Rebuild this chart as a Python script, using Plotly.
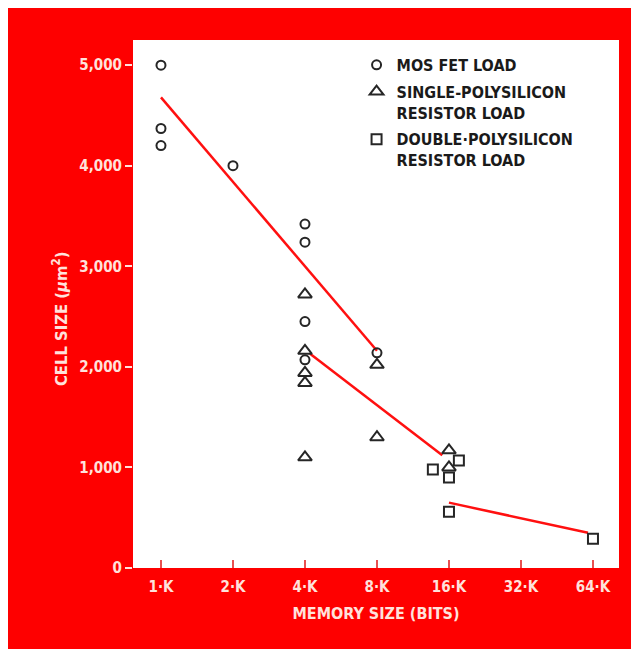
import plotly.graph_objects as go

# Memory size in K bits, cell size in square microns.
mos_x = [1, 1, 1, 2, 4, 4, 4, 4, 8]
mos_y = [5000, 4370, 4200, 4000, 3420, 3240, 2450, 2070, 2140]

single_x = [4, 4, 4, 4, 4, 8, 8, 16, 16]
single_y = [2720, 2160, 1940, 1840, 1100, 2020, 1300, 1170, 1000]

double_x = [13.7, 16, 16, 17.6, 64]
double_y = [980, 900, 560, 1070, 290]

# Trend lines (three segments, gaps as None).
trend_x = [1, 8, None, 4.2, 15, None, 16, 61]
trend_y = [4680, 2160, None, 2130, 1120, None, 650, 350]

tick_vals = [1, 2, 4, 8, 16, 32, 64]
tick_text = ["1·K", "2·K", "4·K", "8·K", "16·K", "32·K", "64·K"]
y_ticks = [0, 1000, 2000, 3000, 4000, 5000]

RED = "#fe0000"
PINK = "#ffe2dc"
FONT = "Liberation Sans Narrow, DejaVu Sans Condensed, Arial Narrow, sans-serif"
INK = "#262626"

fig = go.Figure()

fig.add_trace(go.Scatter(x=trend_x, y=trend_y, mode="lines", showlegend=False,
                         line=dict(color="#ff1010", width=2.5), hoverinfo="skip"))

fig.add_trace(go.Scatter(x=mos_x, y=mos_y, mode="markers", name="MOS FET LOAD",
                         legendgroup="a",
                         marker=dict(symbol="circle-open", size=9, color=INK,
                                     line=dict(width=2, color=INK))))
fig.add_trace(go.Scatter(x=single_x, y=single_y, mode="markers",
                         name="SINGLE-POLYSILICON<br>RESISTOR LOAD", legendgroup="b",
                         marker=dict(symbol="triangle-up-open", size=12, color=INK,
                                     line=dict(width=2, color=INK))))
fig.add_trace(go.Scatter(x=double_x, y=double_y, mode="markers",
                         name="DOUBLE·POLYSILICON<br>RESISTOR LOAD", legendgroup="c",
                         marker=dict(symbol="square-open", size=10, color=INK,
                                     line=dict(width=2, color=INK))))

fig.update_layout(
    width=639, height=649,
    margin=dict(l=125, r=28, t=32, b=89),
    paper_bgcolor=RED, plot_bgcolor="white",
    font=dict(family=FONT, size=15, color=PINK),
    legend=dict(x=0.46, y=0.985, xanchor="left", yanchor="top",
                bgcolor="rgba(0,0,0,0)", valign="top", tracegroupgap=3,
                font=dict(family=FONT, size=16, color="#1a1a1a", weight="bold")),
    annotations=[
        dict(text="CELL SIZE (<i>μ</i>m<sup>2</sup>)", textangle=-90,
             xref="paper", yref="paper", x=-0.150, y=0.4716,
             xanchor="center", yanchor="middle", showarrow=False,
             font=dict(family=FONT, size=16.5, color=PINK, weight="bold")),
    ],
)

fig.update_xaxes(type="log", range=[-0.117, 1.915], tickvals=tick_vals, ticktext=tick_text,
                 ticks="inside", ticklen=8, tickwidth=1.5, tickcolor="#e85050",
                 ticklabelstandoff=8,
                 showgrid=False, zeroline=False, showline=False,
                 tickfont=dict(family=FONT, size=15, color=PINK, weight="bold"),
                 title=dict(text="MEMORY SIZE (BITS)", standoff=12,
                            font=dict(family=FONT, size=16, color=PINK, weight="bold")))
fig.update_yaxes(range=[0, 5250], tickvals=y_ticks, tickformat=",d",
                 ticks="outside", ticklen=7, tickwidth=1.5, tickcolor=PINK,
                 showgrid=False, zeroline=False, showline=False,
                 tickfont=dict(family=FONT, size=15, color=PINK, weight="bold"))

fig.write_html("out.html")
